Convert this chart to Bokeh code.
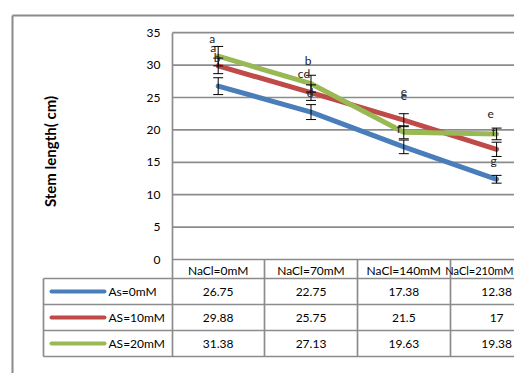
import numpy as np
from bokeh.plotting import figure
from bokeh.models import Range1d
from bokeh.core.properties import value
from bokeh.embed import file_html
from bokeh.resources import INLINE

# ---------------- data ----------------
categories = ["NaCl=0mM", "NaCl=70mM", "NaCl=140mM", "NaCl=210mM"]
series_names = ["As=0mM", "AS=10mM", "AS=20mM"]
as_0 = [26.75, 22.75, 17.38, 12.38]
as_10 = [29.88, 25.75, 21.5, 17]
as_20 = [31.38, 27.13, 19.63, 19.38]
err_0 = [1.3, 1.15, 1.05, 0.6]
err_10 = [1.2, 1.2, 1.0, 1.1]
err_20 = [1.5, 1.3, 1.0, 0.9]
y_ticks = [0, 5, 10, 15, 20, 25, 30, 35]
y_title = "Stem length( cm)"
# significance letters per category (top to bottom) and their heights (cm)
letter_text = [["a", "a", "b"], ["b", "cd", "d"], ["e", "e", "f"], ["e", "f", "g"]]
letter_y = [[34.1, 32.7, 31.2], [30.7, 28.7, 25.7], [25.8, 25.3, 20.2], [22.4, 19.75, 15.3]]

# ---------------- layout (picture pixels) ----------------
FIG_W, FIG_H = 514, 373
CAT0_PX, CAT_W = 217.7, 92.8     # centre of first category, category width
ZERO_PY, UNIT_PY = 259.0, 6.48   # y pixel of value 0, pixels per cm
letter_dx = [[-6, -5, -1], [-3, -7, -1], [0, 0, -5], [-6, -3, -3]]

def xd(px):
    return (px - CAT0_PX) / CAT_W

def yd(py):
    return (ZERO_PY - py) / UNIT_PY

colors = ["#4A7EBB", "#BE4B48", "#98B954"]
grid_col = "#8c8c8c"
FONT = value("Lato")

p = figure(width=FIG_W, height=FIG_H,
           x_range=Range1d(xd(0), xd(FIG_W)),
           y_range=Range1d(yd(FIG_H), yd(0)),
           output_backend="svg", toolbar_location=None,
           x_axis_type=None, y_axis_type=None, min_border=0,
           outline_line_color=None, background_fill_color="white")

n = len(categories)
xs = np.arange(n)
plot_left = xd(172)
right_edge = xd(FIG_W + 20)

# outer chart border
p.segment(x0=[xd(12), xd(12)], y0=[yd(15), yd(15)], x1=[xd(12), right_edge],
          y1=[yd(400), yd(15)], line_color="#8a8a8a", line_width=2)

# gridlines
p.segment(x0=[plot_left] * len(y_ticks), y0=y_ticks, x1=[right_edge] * len(y_ticks),
          y1=y_ticks, line_color=grid_col, line_width=1.7)
# y axis / table left line
p.segment(x0=[plot_left], y0=[max(y_ticks)], x1=[plot_left], y1=[yd(356)],
          line_color=grid_col, line_width=1.7)

# tick labels
p.text(x=[xd(160)] * len(y_ticks), y=y_ticks, text=[str(t) for t in y_ticks],
       text_font=FONT, text_font_size="12px", text_align="right",
       text_baseline="middle", text_color="#000000")

# y title
p.text(x=[xd(49)], y=[yd(151)], text=[y_title], angle=np.pi / 2,
       text_font=FONT, text_font_size="15px", text_font_style="bold",
       text_align="center", text_baseline="middle", text_color="#000000")

# series lines
series = [as_0, as_10, as_20]
errs = [err_0, err_10, err_20]
for vals, col in zip(series, colors):
    p.line(xs, vals, line_color=col, line_width=5, line_cap="round", line_join="round")

# error bars
cap = 5 / CAT_W
for vals, e in zip(series, errs):
    v = np.array(vals, dtype=float)
    e = np.array(e, dtype=float)
    p.segment(x0=xs, y0=v - e, x1=xs, y1=v + e, line_color="black", line_width=1)
    p.segment(x0=xs - cap, y0=v + e, x1=xs + cap, y1=v + e, line_color="black", line_width=1)
    p.segment(x0=xs - cap, y0=v - e, x1=xs + cap, y1=v - e, line_color="black", line_width=1)

# letters
lx, ly, lt = [], [], []
for i in range(n):
    for j in range(len(letter_text[i])):
        lx.append(i + letter_dx[i][j] / CAT_W)
        ly.append(letter_y[i][j])
        lt.append(letter_text[i][j])
p.text(x=lx, y=ly, text=lt, text_font=FONT, text_font_size="12px",
       text_align="center", text_baseline="middle", text_color="#222222")

# ---------------- data table ----------------
row_lines_py = [278, 304, 330, 356]
col_lines_px = [264, 357, 450]
p.segment(x0=[xd(43)] * len(row_lines_py), y0=[yd(r) for r in row_lines_py],
          x1=[right_edge] * len(row_lines_py), y1=[yd(r) for r in row_lines_py],
          line_color=grid_col, line_width=1.7)
p.segment(x0=[xd(c) for c in col_lines_px], y0=[0] * len(col_lines_px),
          x1=[xd(c) for c in col_lines_px], y1=[yd(356)] * len(col_lines_px),
          line_color=grid_col, line_width=1.7)
p.segment(x0=[xd(43)], y0=[yd(278)], x1=[xd(43)], y1=[yd(356)],
          line_color=grid_col, line_width=1.7)

# header (last one kept inside the visible edge)
p.text(x=xs[:-1], y=[yd(270)] * (n - 1), text=categories[:-1], text_font=FONT,
       text_font_size="12px", text_align="center", text_baseline="middle",
       text_color="#000000")
p.text(x=[xd(FIG_W - 1)], y=[yd(270)], text=[categories[-1]], text_font=FONT,
       text_font_size="11px", text_align="right", text_baseline="middle",
       text_color="#000000")

row_centers = [(row_lines_py[k] + row_lines_py[k + 1]) / 2 for k in range(3)]
for k, (vals, col, name) in enumerate(zip(series, colors, series_names)):
    yc = yd(row_centers[k])
    p.line([xd(51), xd(104)], [yc, yc], line_color=col, line_width=4, line_cap="round")
    p.text(x=[xd(108)], y=[yc], text=[name], text_font=FONT, text_font_size="12px",
           text_align="left", text_baseline="middle", text_color="#000000")
    p.text(x=xs, y=[yc] * n, text=["{:g}".format(v) for v in vals], text_font=FONT,
           text_font_size="12px", text_align="center", text_baseline="middle",
           text_color="#000000")

open("out.html", "w").write(file_html(p, INLINE))
